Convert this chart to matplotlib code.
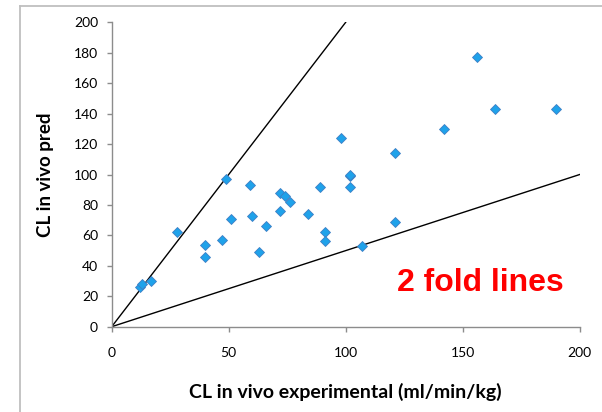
import numpy as np
import matplotlib
matplotlib.use("Agg")
import matplotlib.pyplot as plt
from matplotlib.lines import Line2D

# CL in vivo: experimental vs predicted (ml/min/kg)
cl_exp = [12, 13, 17, 28, 40, 40, 47, 49, 51, 59, 60, 63, 66, 72, 72, 74, 76,
          84, 89, 91, 91, 98, 102, 102, 102, 107, 121, 121, 142, 156, 164, 190]
cl_pred = [26, 28, 30, 62, 54, 46, 57, 97, 71, 93, 73, 49, 66, 76, 88, 86, 82,
           74, 92, 62, 56, 124, 99, 100, 92, 53, 114, 69, 130, 177, 143, 143]

# 2-fold lines (upper: y = 2x, lower: y = x/2)
fold_x_upper = [0, 100]
fold_y_upper = [0, 200]
fold_x_lower = [0, 200]
fold_y_lower = [0, 100]

x_ticks = [0, 50, 100, 150, 200]
y_ticks = [0, 20, 40, 60, 80, 100, 120, 140, 160, 180, 200]

plt.rcParams['font.family'] = ['Lato', 'DejaVu Sans']

fig = plt.figure(figsize=(6.02, 4.12), dpi=100)
ax = fig.add_axes([0.1855, 0.207, 0.7774, 0.7388])

# chart area frame (Excel style, cut at right/bottom)
frame_col = '#BFBFBF'
fig.add_artist(Line2D([20 / 602, 20 / 602], [0, 1 - 6 / 412], color=frame_col, lw=1.3,
                      transform=fig.transFigure))
fig.add_artist(Line2D([20 / 602, 1], [1 - 6 / 412, 1 - 6 / 412], color=frame_col, lw=1.3,
                      transform=fig.transFigure))

ax.plot(fold_x_upper, fold_y_upper, color='black', lw=1.0)
ax.plot(fold_x_lower, fold_y_lower, color='black', lw=1.0)
ax.plot(cl_exp, cl_pred, linestyle='none', marker='D', markersize=5.3,
        markerfacecolor='#1FA2EA', markeredgecolor='#3E7FC4', markeredgewidth=0.6,
        zorder=3)

ax.set_xlim(0, 200)
ax.set_ylim(0, 200)
ax.set_xticks(x_ticks)
ax.set_yticks(y_ticks)

for side in ['top', 'right']:
    ax.spines[side].set_visible(False)
for side in ['left', 'bottom']:
    ax.spines[side].set_color('#8C8C8C')
    ax.spines[side].set_linewidth(1.0)
ax.tick_params(axis='both', direction='out', length=3.8, width=1.0, color='#8C8C8C',
               labelsize=10, labelcolor='black')
ax.tick_params(axis='x', pad=11)
ax.tick_params(axis='y', pad=6)

ax.set_xlabel('CL in vivo experimental (ml/min/kg)', fontsize=14, fontweight='bold',
              labelpad=17)
ax.set_ylabel('CL in vivo pred', fontsize=13.5, fontweight='bold', labelpad=14)

ax.text(480 / 602, 1 - 283 / 412, '2 fold lines', transform=fig.transFigure,
        ha='center', va='center', color='red', fontsize=23, fontweight='bold',
        family=['Liberation Sans', 'DejaVu Sans'])

fig.savefig('out.png', dpi=100)
